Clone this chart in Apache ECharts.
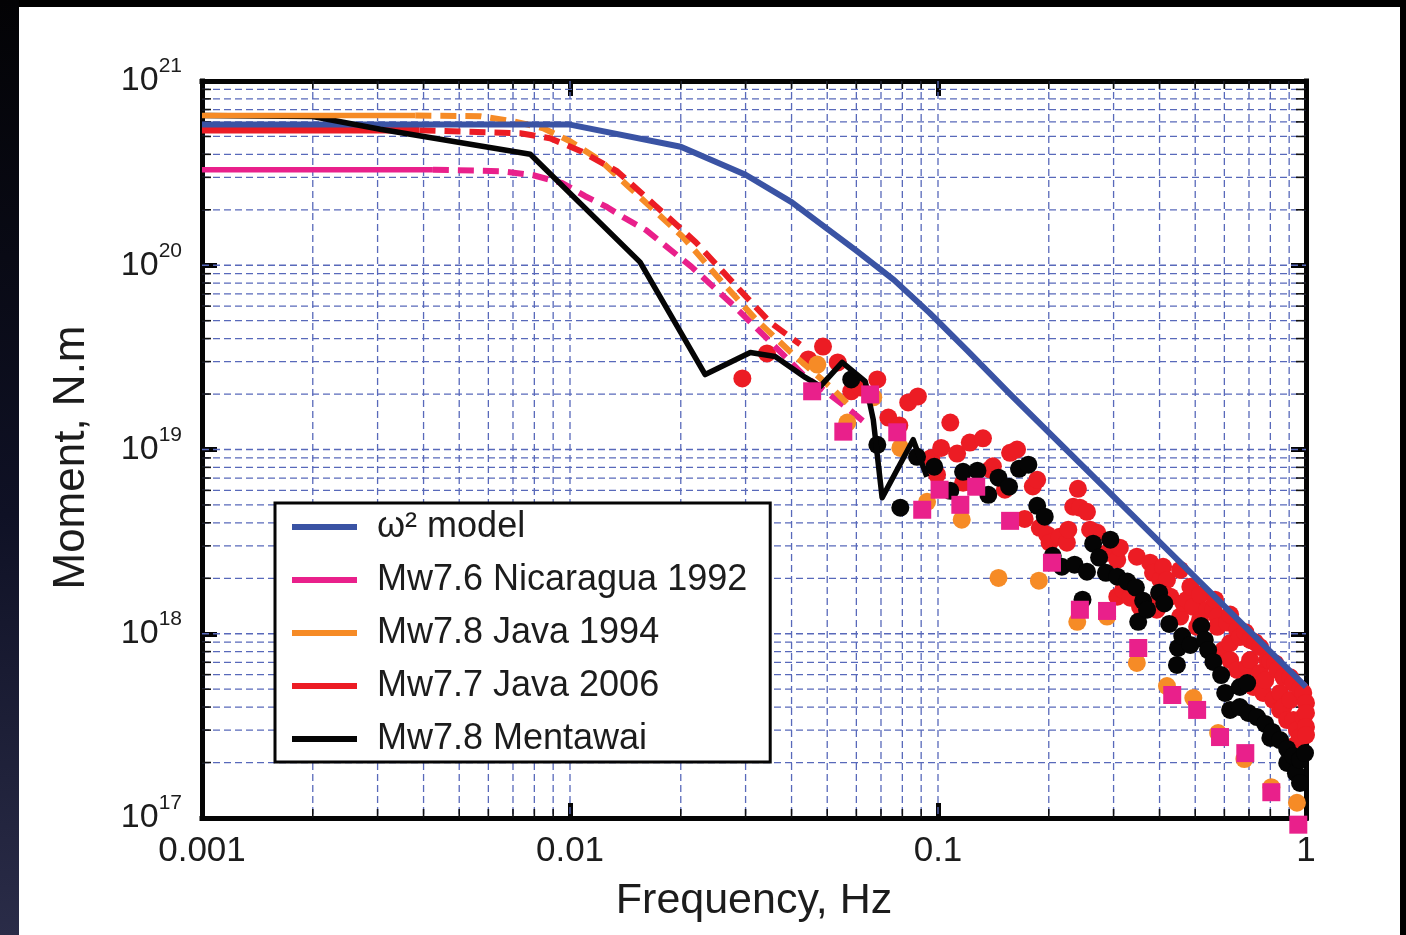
<!DOCTYPE html>
<html>
<head>
<meta charset="utf-8">
<title>Source spectra</title>
<script src="https://cdn.jsdelivr.net/npm/echarts@6/dist/echarts.min.js"></script>
<style>
  html, body { margin: 0; padding: 0; width: 1406px; height: 935px; overflow: hidden; background: #000; }
  #edge { position: absolute; left: 0; top: 0; width: 19px; height: 935px;
          background: linear-gradient(#030305, #0f1125 55%, #2a2c48); }
  #panel { position: absolute; left: 19px; top: 7px; width: 1381px; height: 928px; background: #fff; }
  #chart { position: absolute; left: 0; top: 0; width: 1406px; height: 935px; }
</style>
</head>
<body>
<div id="edge"></div>
<div id="panel"></div>
<div id="chart"></div>
<script>
// ---- axis structure ----
const freqMin = 0.001, freqMax = 1;
const momentMin = 1e17, momentMax = 1e21;
const freqTickLabels = ['0.001', '0.01', '0.1', '1'];
const minorSteps = [2, 3, 4, 5, 6, 7, 8, 9];
const freqDecades = [0.001, 0.01, 0.1];
const momentDecades = [1e17, 1e18, 1e19, 1e20];

// ---- omega-squared source model ----
const omegaFreq   = [0.001, 0.01, 0.02, 0.03, 0.04, 0.06, 0.076, 0.095, 0.12, 0.157, 1];
const omegaMoment = [5.8e20, 5.8e20, 4.4e20, 3.1e20, 2.2e20, 1.2e20, 8.3e19, 5.5e19, 3.45e19, 2.0e19, 5.15e17];

// ---- Mw7.6 Nicaragua 1992 ----
const nicFlat   = [[0.001, 3.3e20], [0.00424, 3.3e20]];
const nicCurve  = [[0.00424, 3.3e20], [0.00647, 3.24e20], [0.00795, 3.08e20], [0.00953, 2.79e20],
                   [0.011, 2.37e20], [0.0126, 2.07e20], [0.0141, 1.8e20], [0.0161, 1.55e20],
                   [0.0214, 9.8e19], [0.0277, 6.1e19], [0.0339, 4.1e19], [0.043, 2.55e19],
                   [0.0565, 1.69e19], [0.0641, 1.37e19]];
const nicPoints = [[0.0455, 2.07e19], [0.0553, 1.25e19], [0.0654, 1.99e19], [0.0775, 1.24e19],
                   [0.0906, 4.71e18], [0.101, 6.05e18], [0.115, 5.01e18], [0.127, 6.28e18],
                   [0.157, 4.1e18], [0.204, 2.43e18], [0.243, 1.35e18], [0.288, 1.33e18],
                   [0.35, 8.37e17], [0.433, 4.65e17], [0.506, 3.86e17], [0.584, 2.75e17],
                   [0.684, 2.25e17], [0.805, 1.38e17], [0.953, 9.2e16]];

// ---- Mw7.8 Java 1994 ----
const java94Flat   = [[0.001, 6.5e20], [0.0038, 6.5e20]];
const java94Curve  = [[0.0038, 6.5e20], [0.0057, 6.44e20], [0.007, 6.05e20], [0.00846, 5.54e20],
                      [0.01, 4.71e20], [0.01206, 3.72e20], [0.01429, 2.72e20], [0.0203, 1.42e20],
                      [0.0254, 8.47e19], [0.032, 5.08e19], [0.0404, 3.28e19], [0.0519, 2.12e19],
                      [0.0588, 1.65e19]];
const java94Points = [[0.047, 2.89e19], [0.0567, 1.4e19], [0.0667, 1.92e19], [0.079, 1.02e19],
                      [0.0934, 5.2e18], [0.116, 4.16e18], [0.146, 2.01e18], [0.188, 1.94e18],
                      [0.239, 1.16e18], [0.288, 1.24e18], [0.347, 6.94e17], [0.419, 5.2e17],
                      [0.494, 4.48e17], [0.577, 2.89e17], [0.68, 2.09e17], [0.805, 1.47e17],
                      [0.945, 1.21e17]];

// ---- Mw7.7 Java 2006 ----
const java06Flat   = [[0.001, 5.4e20], [0.0039, 5.4e20]];
const java06Curve  = [[0.0039, 5.4e20], [0.00733, 5.2e20], [0.00882, 4.89e20], [0.01071, 4.16e20],
                      [0.01342, 3.24e20], [0.017, 2.12e20], [0.022, 1.33e20], [0.0277, 8.06e19],
                      [0.035, 4.89e19], [0.0422, 3.72e19]];
const java06Points = [
  [0.0294, 2.43e19], [0.0343, 3.32e19], [0.0444, 3.08e19], [0.0487, 3.62e19], [0.0534, 2.97e19],
  [0.0581, 2.07e19], [0.0615, 2.17e19], [0.0684, 2.4e19], [0.0733, 1.49e19], [0.0785, 1.35e19],
  [0.083, 1.8e19], [0.0882, 1.94e19], [0.0959, 9.0e18], [0.0994, 7.3e18], [0.102, 1.02e19],
  [0.108, 1.4e19], [0.1127, 9.5e18], [0.117, 6.6e18], [0.122, 1.09e19], [0.1325, 1.15e19],
  [0.1385, 7.8e18], [0.141, 8.1e18], [0.152, 6.05e18], [0.157, 9.6e18], [0.164, 1.0e19],
  [0.172, 4.2e18], [0.181, 6.3e18], [0.186, 6.85e18], [0.189, 3.76e18], [0.198, 3.45e18],
  [0.201, 3.12e18], [0.214, 3.36e18], [0.224, 3.12e18], [0.226, 3.67e18], [0.233, 4.89e18],
  [0.24, 6.12e18], [0.243, 4.83e18], [0.254, 4.59e18], [0.259, 3.67e18], [0.271, 3.53e18],
  [0.288, 2.75e18], [0.307, 2.52e18], [0.307, 1.59e18], [0.312, 2.93e18], [0.3185, 1.73e18],
  [0.333, 1.57e18], [0.347, 2.62e18], [0.354, 1.4e18], [0.377, 2.43e18], [0.377, 1.4e18],
  [0.384, 2.14e18], [0.393, 1.35e18], [0.40, 1.64e18], [0.402, 1.96e18], [0.409, 2.31e18],
  [0.419, 1.96e18], [0.428, 1.59e18], [0.455, 2.22e18], [0.455, 1.24e18], [0.464, 1.47e18],
  [0.475, 1.53e18], [0.485, 1.8e18], [0.494, 1.4e18], [0.506, 1.09e18], [0.515, 1.63e18],
  [0.515, 1.19e18], [0.539, 1.35e18], [0.56, 1.35e18], [0.566, 1.53e18], [0.574, 1.24e18],
  [0.574, 1.09e18], [0.596, 8.16e17], [0.61, 1.15e18], [0.622, 1.27e18], [0.622, 8.9e17],
  [0.622, 7.2e17], [0.65, 1.05e18], [0.65, 6.36e17], [0.661, 9.6e17], [0.684, 1.02e18],
  [0.692, 6.6e17], [0.705, 9.25e17], [0.705, 7.2e17], [0.719, 5.14e17], [0.727, 9.0e17],
  [0.75, 8.47e17], [0.75, 6.12e17], [0.765, 4.77e17], [0.775, 5.6e17], [0.785, 7.2e17],
  [0.8, 7.1e17], [0.815, 4.37e17], [0.825, 6.9e17], [0.836, 6.36e17], [0.85, 4.77e17],
  [0.85, 3.86e17], [0.868, 5.82e17], [0.868, 4.0e17], [0.889, 3.4e17], [0.906, 5.8e17],
  [0.906, 4.37e17], [0.924, 5.4e17], [0.924, 3.4e17], [0.935, 2.49e17], [0.945, 3.0e17],
  [0.963, 5.0e17], [0.963, 2.75e17], [0.983, 4.77e17], [0.983, 3.53e17], [1.0, 4.21e17],
  [1.0, 3.72e17], [1.0, 3.12e17], [1.0, 2.82e17]
];

// ---- Mw7.8 Mentawai ----
const mentLine   = [[0.001, 6.5e20], [0.002, 6.42e20], [0.00305, 5.47e20], [0.0078, 4.0e20],
                    [0.0155, 1.04e20], [0.0233, 2.55e19], [0.0309, 3.36e19], [0.0361, 3.2e19],
                    [0.0436, 2.46e19], [0.0479, 2.2e19], [0.0549, 2.97e19], [0.0634, 2.34e19],
                    [0.0667, 1.45e19], [0.0705, 5.47e18], [0.0856, 1.13e19], [0.0933, 7.11e18]];
const mentPoints = [
  [0.0581, 2.4e19], [0.0684, 1.06e19], [0.079, 4.83e18], [0.0877, 9.13e18], [0.0977, 8.06e18],
  [0.108, 5.97e18], [0.117, 7.57e18], [0.128, 7.67e18], [0.137, 5.68e18], [0.146, 7.03e18],
  [0.156, 6.28e18], [0.166, 7.86e18], [0.176, 8.27e18], [0.186, 4.95e18], [0.195, 4.32e18],
  [0.205, 2.65e18], [0.217, 2.31e18], [0.235, 2.37e18], [0.247, 1.53e18], [0.254, 2.17e18],
  [0.264, 3.08e18], [0.274, 2.59e18], [0.286, 2.14e18], [0.294, 3.24e18], [0.307, 2.04e18],
  [0.327, 1.92e18], [0.345, 1.78e18], [0.35, 1.16e18], [0.361, 1.51e18], [0.37, 1.35e18],
  [0.399, 1.67e18], [0.412, 1.46e18], [0.425, 1.13e18], [0.446, 6.77e17], [0.449, 8.37e17],
  [0.461, 9.72e17], [0.485, 8.69e17], [0.519, 1.1e18], [0.531, 9.25e17], [0.542, 8.16e17],
  [0.56, 7.03e17], [0.588, 5.97e17], [0.603, 4.77e17], [0.622, 3.86e17], [0.661, 5.14e17],
  [0.661, 4.0e17], [0.692, 5.4e17], [0.697, 3.72e17], [0.736, 3.53e17], [0.775, 3.24e17],
  [0.8, 2.72e17], [0.81, 2.93e17], [0.85, 2.65e17], [0.889, 2.37e17], [0.889, 1.99e17],
  [0.924, 2.17e17], [0.939, 1.75e17], [0.963, 2.07e17], [0.963, 1.55e17], [0.994, 2.25e17]
];

// ---- legend ----
const legendNames  = ['ω² model', 'Mw7.6 Nicaragua 1992', 'Mw7.8 Java 1994', 'Mw7.7 Java 2006', 'Mw7.8 Mentawai'];
const legendColors = ['#3a53a4', '#e9208b', '#f68b26', '#ec1c24', '#050505'];

const FONT = 'Liberation Sans, Arial, Helvetica, sans-serif';
const TEXT = '#1c1c1c';
const GRID_BLUE = '#5869ba';

// grid lines (dashed) and minor ticks, placed through the axes' own scales
const decorData = [];
freqDecades.forEach(d => {
  if (d > freqMin) decorData.push([d, 1e19, 0]);
  minorSteps.forEach(m => { decorData.push([m * d, 1e19, 0]); decorData.push([m * d, 1e19, 2]); });
});
momentDecades.forEach(d => {
  if (d > momentMin) decorData.push([0.01, d, 1]);
  minorSteps.forEach(m => { decorData.push([0.01, m * d, 1]); decorData.push([0.01, m * d, 3]); });
});

function renderDecor(params, api) {
  const cs = params.coordSys;
  const kind = api.value(2);
  const gridStyle = { stroke: GRID_BLUE, lineWidth: 1.3, lineDash: [7, 4] };
  const tickStyle = { stroke: '#111', lineWidth: 1.6 };
  if (kind === 0 || kind === 2) {
    const x = api.coord([api.value(0), api.value(1)])[0];
    if (kind === 0) {
      return { type: 'line', shape: { x1: x, y1: cs.y, x2: x, y2: cs.y + cs.height }, style: gridStyle };
    }
    return { type: 'group', children: [
      { type: 'line', shape: { x1: x, y1: cs.y + cs.height, x2: x, y2: cs.y + cs.height - 9 }, style: tickStyle },
      { type: 'line', shape: { x1: x, y1: cs.y, x2: x, y2: cs.y + 8 }, style: tickStyle }
    ] };
  }
  const y = api.coord([api.value(0), api.value(1)])[1];
  if (kind === 1) {
    return { type: 'line', shape: { x1: cs.x, y1: y, x2: cs.x + cs.width, y2: y }, style: gridStyle };
  }
  return { type: 'group', children: [
    { type: 'line', shape: { x1: cs.x, y1: y, x2: cs.x + 9, y2: y }, style: tickStyle },
    { type: 'line', shape: { x1: cs.x + cs.width, y1: y, x2: cs.x + cs.width - 10, y2: y }, style: tickStyle }
  ] };
}

const frameLine = { show: true, lineStyle: { color: '#050505', width: 5, cap: 'square' } };
const majorTick = { show: true, inside: true, length: 15, lineStyle: { color: '#050505', width: 5 } };

function lineSeries(name, data, color, dashed, z, width) {
  return {
    name, type: 'line', data, z, symbol: 'none', showSymbol: false, clip: false, silent: true,
    lineStyle: { color, width: width || 5.5, type: dashed ? [16, 9] : 'solid', cap: 'butt', join: 'round' },
    itemStyle: { color }
  };
}
function pointSeries(name, data, color, symbol, size, z) {
  return {
    name, type: 'scatter', data, z, symbol, symbolSize: size, clip: false, silent: true,
    itemStyle: { color, opacity: 1 }
  };
}

const omegaData = omegaFreq.map((f, i) => [f, omegaMoment[i]]);

const option = {
  animation: false,
  backgroundColor: 'transparent',
  grid: { left: 202, top: 81, width: 1104, height: 737, containLabel: false },
  xAxis: [
    {
      type: 'log', logBase: 10, min: freqMin, max: freqMax, position: 'bottom',
      axisLine: frameLine, axisTick: majorTick, splitLine: { show: false }, minorTick: { show: false },
      axisLabel: {
        show: true, margin: 16, fontSize: 35, fontFamily: FONT, color: TEXT,
        showMinLabel: true, showMaxLabel: true,
        formatter: v => freqTickLabels[Math.round(Math.log10(v)) + 3]
      },
      name: 'Frequency, Hz', nameLocation: 'middle', nameGap: 62,
      nameTextStyle: { fontSize: 43, fontFamily: FONT, color: TEXT }
    },
    {
      type: 'log', logBase: 10, min: freqMin, max: freqMax, position: 'top',
      axisLine: frameLine, axisTick: majorTick, axisLabel: { show: false }, splitLine: { show: false }
    }
  ],
  yAxis: [
    {
      type: 'log', logBase: 10, min: momentMin, max: momentMax, position: 'left',
      axisLine: frameLine, axisTick: majorTick, splitLine: { show: false }, minorTick: { show: false },
      axisLabel: {
        show: true, margin: 20, showMinLabel: true, showMaxLabel: true,
        formatter: v => '{b|10}{s|' + Math.round(Math.log10(v)) + '}',
        rich: {
          b: { fontSize: 34, lineHeight: 50, fontFamily: FONT, color: TEXT },
          s: { fontSize: 21, lineHeight: 21, verticalAlign: 'top', fontFamily: FONT, color: TEXT }
        }
      },
      name: 'Moment, N.m', nameLocation: 'middle', nameRotate: 90, nameGap: 108,
      nameTextStyle: { fontSize: 44, fontFamily: FONT, color: TEXT, padding: [0, 16, 0, 0] }
    },
    {
      type: 'log', logBase: 10, min: momentMin, max: momentMax, position: 'right',
      axisLine: frameLine, axisTick: majorTick, axisLabel: { show: false }, splitLine: { show: false }
    }
  ],
  legend: {
    orient: 'vertical', left: 275, top: 503,
    padding: [6, 23, 5, 17], itemGap: 17, itemWidth: 65, itemHeight: 6,
    backgroundColor: '#fff', borderColor: '#050505', borderWidth: 3, borderRadius: 0,
    selectedMode: false, z: 30,
    textStyle: { fontSize: 36, fontFamily: FONT, color: TEXT, lineHeight: 36, padding: [0, 0, 0, 15] },
    data: legendNames.map((n, i) => ({ name: n, icon: 'rect', itemStyle: { color: legendColors[i], borderWidth: 0 } }))
  },
  series: [
    { type: 'custom', renderItem: renderDecor, data: decorData, z: 1, silent: true,
      coordinateSystem: 'cartesian2d', clip: false },
    pointSeries(legendNames[3], java06Points, legendColors[3], 'circle', 18, 3),
    lineSeries(legendNames[1], nicFlat, legendColors[1], false, 12),
    lineSeries(legendNames[1], nicCurve, legendColors[1], true, 4, 6),
    lineSeries(legendNames[2], java94Flat, legendColors[2], false, 12),
    lineSeries(legendNames[2], java94Curve, legendColors[2], true, 4, 6),
    lineSeries(legendNames[3], java06Flat, legendColors[3], false, 8, 6.5),
    lineSeries(legendNames[3], java06Curve, legendColors[3], true, 4, 6),
    pointSeries(legendNames[2], java94Points, legendColors[2], 'circle', 18, 5),
    lineSeries(legendNames[0], omegaData, legendColors[0], false, 9, 6),
    pointSeries(legendNames[4], mentPoints, legendColors[4], 'circle', 18, 7),
    lineSeries(legendNames[4], mentLine, legendColors[4], false, 10, 5.5),
    pointSeries(legendNames[1], nicPoints, legendColors[1], 'rect', 18, 11)
  ]
};

const chart = echarts.init(document.getElementById('chart'), null, { renderer: 'canvas' });
chart.setOption(option);
</script>
</body>
</html>
